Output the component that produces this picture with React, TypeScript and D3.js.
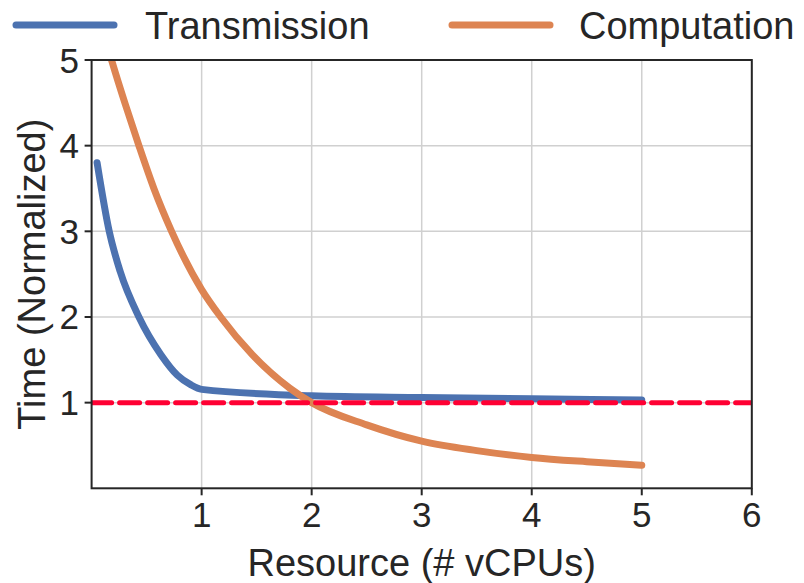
import React from "react";
import * as d3 from "d3";

// Normalized time vs. allocated vCPUs
const transmissionX = [0.05, 0.16, 0.26, 0.43, 0.63, 0.78, 0.9, 1.0, 2.0, 3.0, 4.0, 5.0];
const transmissionY = [3.8, 3.0, 2.53, 2.0, 1.56, 1.32, 1.21, 1.155, 1.08, 1.06, 1.045, 1.03];

const computationX = [0.05, 0.186, 0.307, 0.43, 0.566, 0.727, 1.0, 1.173, 1.46, 1.8, 2.0, 2.5, 3.0, 3.5, 4.0, 4.5, 5.0];
const computationY = [5.6, 4.98, 4.48, 4.0, 3.5, 3.0, 2.32, 2.0, 1.56, 1.17, 1.0, 0.74, 0.55, 0.44, 0.36, 0.31, 0.27];

const xTicks = [1, 2, 3, 4, 5, 6];
const yTicks = [1, 2, 3, 4, 5];
const baseline = 1;

const seriesNames = ["Transmission", "Computation"];
const seriesColors = ["#4c72b0", "#dd8452"];

const W = 804;
const H = 583;
const m = { left: 91.6, right: 751.8, top: 60, bottom: 488.3 };
const font = "'Liberation Sans', Arial, sans-serif";
const ink = "#262626";

export default function App() {
  const x = d3.scaleLinear().domain([0, 6]).range([m.left, m.right]);
  const y = d3.scaleLinear().domain([0, 5]).range([m.bottom, m.top]);

  const line = d3
    .line<[number, number]>()
    .x((d) => x(d[0]))
    .y((d) => y(d[1]))
    .curve(d3.curveMonotoneX);

  const tData = transmissionX.map((v, i) => [v, transmissionY[i]] as [number, number]);
  const cData = computationX.map((v, i) => [v, computationY[i]] as [number, number]);

  return (
    <svg
      width={W}
      height={H}
      style={{ position: "absolute", left: 0, top: 0, background: "#fff" }}
    >
      <defs>
        <clipPath id="plot-area">
          <rect x={m.left} y={m.top} width={m.right - m.left} height={m.bottom - m.top} />
        </clipPath>
      </defs>

      {/* grid */}
      <g stroke="#d0d0d0" strokeWidth={1.5}>
        {xTicks.map((t) => (
          <line key={"gx" + t} x1={x(t)} x2={x(t)} y1={m.top} y2={m.bottom} />
        ))}
        {yTicks.map((t) => (
          <line key={"gy" + t} x1={m.left} x2={m.right} y1={y(t)} y2={y(t)} />
        ))}
      </g>

      {/* series */}
      <g clipPath="url(#plot-area)" fill="none" strokeLinecap="round" strokeLinejoin="round">
        <path d={line(tData) || ""} stroke={seriesColors[0]} strokeWidth={7} />
        <path d={line(cData) || ""} stroke={seriesColors[1]} strokeWidth={7} />
        <line
          x1={x(0)}
          x2={x(6)}
          y1={y(baseline)}
          y2={y(baseline)}
          stroke="#ff0033"
          strokeWidth={5}
          strokeDasharray="20 8"
        />
      </g>

      {/* frame */}
      <rect
        x={m.left}
        y={m.top}
        width={m.right - m.left}
        height={m.bottom - m.top}
        fill="none"
        stroke={ink}
        strokeWidth={2}
      />

      {/* x axis ticks */}
      <g fontFamily={font} fontSize={35} fill={ink} textAnchor="middle">
        {xTicks.map((t) => (
          <g key={"xt" + t}>
            <line x1={x(t)} x2={x(t)} y1={m.bottom} y2={m.bottom + 7} stroke={ink} strokeWidth={2} />
            <text x={x(t)} y={527}>
              {t}
            </text>
          </g>
        ))}
      </g>

      {/* y axis ticks */}
      <g fontFamily={font} fontSize={35} fill={ink} textAnchor="end">
        {yTicks.map((t) => (
          <g key={"yt" + t}>
            <line x1={m.left - 7} x2={m.left} y1={y(t)} y2={y(t)} stroke={ink} strokeWidth={2} />
            <text x={79} y={y(t) + 12.5}>
              {t}
            </text>
          </g>
        ))}
      </g>

      {/* axis titles */}
      <text
        x={(m.left + m.right) / 2}
        y={576}
        textAnchor="middle"
        fontFamily={font}
        fontSize={38}
        fill={ink}
      >
        Resource (# vCPUs)
      </text>
      <text
        transform={`translate(45, ${(m.top + m.bottom) / 2}) rotate(-90)`}
        textAnchor="middle"
        fontFamily={font}
        fontSize={38}
        fill={ink}
      >
        Time (Normalized)
      </text>

      {/* legend */}
      <g fontFamily={font} fontSize={38} fill={ink}>
        <line x1={16} x2={114} y1={25} y2={25} stroke={seriesColors[0]} strokeWidth={7} strokeLinecap="round" />
        <text x={145} y={39}>
          {seriesNames[0]}
        </text>
        <line x1={452} x2={550} y1={25} y2={25} stroke={seriesColors[1]} strokeWidth={7} strokeLinecap="round" />
        <text x={579} y={39}>
          {seriesNames[1]}
        </text>
      </g>
    </svg>
  );
}
